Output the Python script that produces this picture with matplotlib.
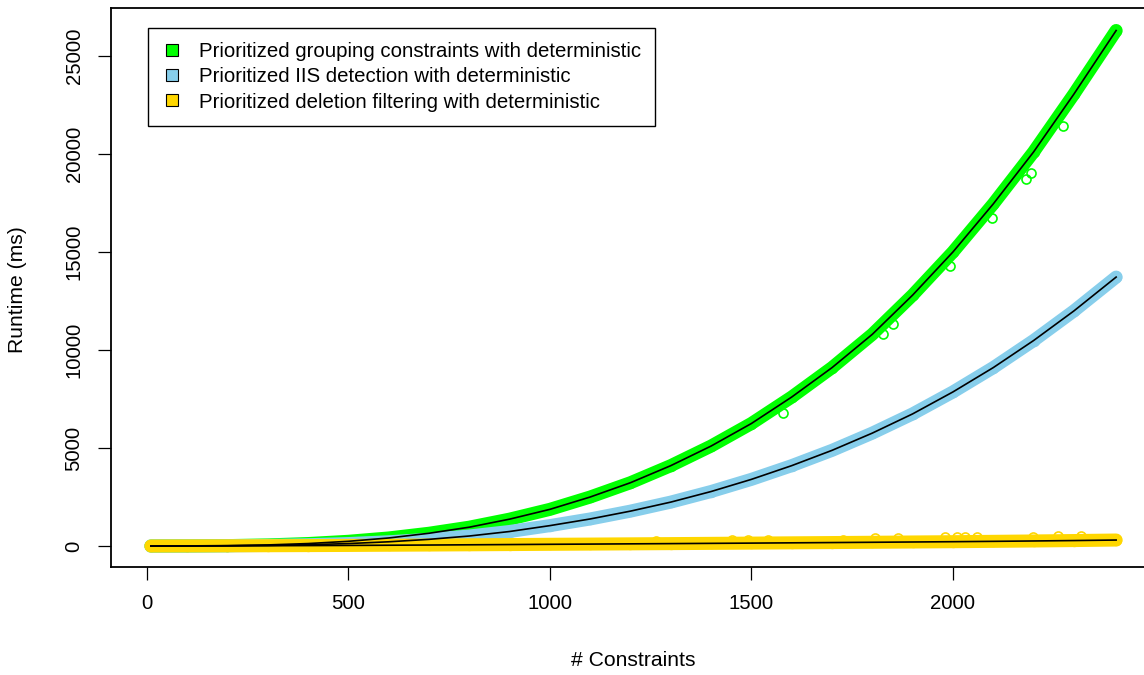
import matplotlib
matplotlib.use('Agg')
import matplotlib.pyplot as plt
from matplotlib.patches import Patch, Rectangle
from matplotlib.legend_handler import HandlerPatch

plt.rcParams['font.family'] = ['Liberation Sans', 'DejaVu Sans']

# number of constraints
n_constraints = [10, 100, 200, 300, 400, 500, 600, 700, 800, 900, 1000, 1100, 1200,
                 1300, 1400, 1500, 1600, 1700, 1800, 1900, 2000, 2100, 2200, 2300, 2405]

# runtime (ms)
grouping = [0, 5, 20, 55, 125, 240, 410, 650, 960, 1370, 1870, 2500, 3230,
            4100, 5100, 6250, 7600, 9100, 10800, 12800, 15000, 17450, 20100, 23050, 26300]
iis = [0, 2, 10, 30, 65, 125, 215, 340, 510, 740, 1040, 1380, 1780,
       2240, 2780, 3400, 4100, 4880, 5760, 6740, 7860, 9100, 10480, 11990, 13720]
deletion = [0, 5, 10, 15, 22, 30, 40, 50, 62, 74, 87, 98, 110,
            122, 135, 148, 162, 176, 190, 205, 220, 238, 257, 278, 305]

# stray measurements sticking out of the bands
grouping_out_x = [1578, 1827, 1851, 1992, 2096, 2181, 2195, 2274]
grouping_out_y = [6800, 10800, 11350, 14300, 16750, 18750, 19050, 21450]
deletion_out_x = [1263, 1453, 1491, 1541, 1727, 1807, 1864, 1980, 2009, 2030, 2059, 2199, 2261, 2319]
deletion_out_y = [250, 290, 295, 305, 330, 410, 420, 437, 442, 445, 450, 477, 490, 503]

labels = ['Prioritized grouping constraints with deterministic',
          'Prioritized IIS detection with deterministic',
          'Prioritized deletion filtering with deterministic']
colors = ['#00FF00', '#87CEEB', '#FFD700']

fig = plt.figure(figsize=(11.44, 6.75), dpi=100)
ax = fig.add_axes([111 / 1144, 1 - 567 / 675, (1152 - 111) / 1144, (567 - 8) / 675])

for runtime, c in zip([grouping, iis, deletion], colors):
    ax.plot(n_constraints, runtime, color=c, lw=9.4, solid_capstyle='round', zorder=1)
    ax.plot(n_constraints, runtime, 'o', mfc='none', mec=c, ms=7, mew=1.2, zorder=1)
ax.plot(grouping_out_x, grouping_out_y, 'o', mfc='none', mec=colors[0], ms=6.5, mew=1.2, zorder=0)
ax.plot(deletion_out_x, deletion_out_y, 'o', mfc='none', mec=colors[2], ms=6.5, mew=1.2, zorder=0)

# fitted curves
for runtime in [grouping, iis, deletion]:
    ax.plot(n_constraints, runtime, color='black', lw=1.2, zorder=5)

ax.set_xlim(-89, 2494)
ax.set_ylim(-1071, 27449)
ax.set_xticks([0, 500, 1000, 1500, 2000])
ax.set_yticks([0, 5000, 10000, 15000, 20000, 25000])
ax.tick_params(length=9.4, width=0.9, labelsize=14.7)
ax.tick_params(axis='x', pad=10)
ax.tick_params(axis='y', pad=10.3, labelrotation=90)
for lab in ax.get_yticklabels():
    lab.set_va('center')
for sp in ax.spines.values():
    sp.set_linewidth(1.3)

fig.text(633 / 1144, 1 - 661 / 675, '# Constraints', ha='center', va='center', fontsize=15.2)
fig.text(18 / 1144, 1 - 290 / 675, 'Runtime (ms)', ha='center', va='center', rotation=90, fontsize=15.2)


def square(legend, orig_handle, xdescent, ydescent, width, height, fontsize):
    s = 8.6
    return Rectangle((width - s - xdescent, height / 2 - s / 2 - ydescent), s, s)


handles = [Patch(facecolor=c, edgecolor='black', lw=0.8) for c in colors]
leg = ax.legend(handles, labels, loc='upper left', bbox_to_anchor=(148 / 1144, 1 - 28 / 675),
                bbox_transform=fig.transFigure, borderaxespad=0, fancybox=False,
                edgecolor='black', framealpha=1, fontsize=14.7, handlelength=0.75,
                handleheight=0.7, handletextpad=1.05, borderpad=0.7, labelspacing=0.3,
                handler_map={Patch: HandlerPatch(patch_func=square)})
leg.get_frame().set_linewidth(1.0)

fig.savefig('out.png', dpi=100)
